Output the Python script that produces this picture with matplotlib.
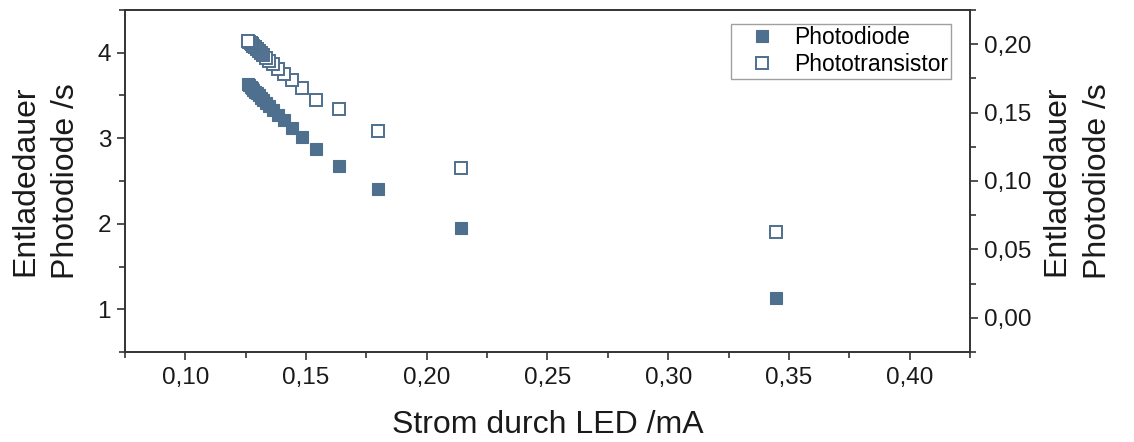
import matplotlib
matplotlib.use("Agg")
import matplotlib.pyplot as plt
from matplotlib.ticker import MultipleLocator, FuncFormatter

plt.rcParams['font.family'] = ['Liberation Sans', 'DejaVu Sans']

# Strom durch LED in mA
current = [0.3445, 0.2143, 0.1798, 0.1635, 0.1542, 0.1483, 0.1441, 0.1408,
           0.1384, 0.1364, 0.1348, 0.1335, 0.1323, 0.1313, 0.1304, 0.1296,
           0.1289, 0.1282, 0.1276, 0.1270, 0.1265, 0.1260]
# Entladedauer in s
photodiode = [1.13, 1.95, 2.41, 2.675, 2.875, 3.015, 3.125, 3.21,
              3.275, 3.33, 3.375, 3.41, 3.445, 3.475, 3.50, 3.525,
              3.545, 3.565, 3.585, 3.605, 3.62, 3.64]
phototransistor = [0.0628, 0.1095, 0.1365, 0.1526, 0.1591, 0.1679, 0.1735, 0.1785,
                   0.1822, 0.1855, 0.1880, 0.1900, 0.1920, 0.1937, 0.1952, 0.1965,
                   0.1977, 0.1988, 0.1998, 0.2008, 0.2016, 0.2025]

col = '#4e6f8d'
spine_col = '#333333'


def comma(v, pos):
    return '{:.2f}'.format(v).replace('.', ',')


fig = plt.figure(figsize=(11.34, 4.42), dpi=100)
ax = fig.add_axes([0.1102, 0.2036, 0.7452, 0.7738])
ax2 = ax.twinx()

l1, = ax.plot(current, photodiode, 's', ms=8.0, color=col, mec=col, mew=0.8,
              label='Photodiode', linestyle='none')
l2, = ax2.plot(current, phototransistor, 's', ms=8.2, mfc='white', mec=col, mew=1.4,
               label='Phototransistor', linestyle='none')

ax.set_xlim(0.075, 0.425)
ax.set_ylim(0.5, 4.5)
ax2.set_ylim(-0.025, 0.225)

ax.xaxis.set_major_locator(MultipleLocator(0.05))
ax.xaxis.set_minor_locator(MultipleLocator(0.025))
ax.xaxis.set_major_formatter(FuncFormatter(comma))
ax.yaxis.set_major_locator(MultipleLocator(1))
ax.yaxis.set_minor_locator(MultipleLocator(0.5))
ax2.yaxis.set_major_locator(MultipleLocator(0.05))
ax2.yaxis.set_minor_locator(MultipleLocator(0.025))
ax2.yaxis.set_major_formatter(FuncFormatter(comma))

for a in (ax, ax2):
    for s in a.spines.values():
        s.set_color(spine_col)
        s.set_linewidth(1.2)

ax.tick_params(axis='x', which='both', direction='out', top=False, colors=spine_col,
               labelcolor='#1a1a1a', labelsize=17.5, pad=5, width=1.2)
ax.tick_params(axis='y', which='both', direction='out', right=False, colors=spine_col,
               labelcolor='#1a1a1a', labelsize=17.5, pad=4, width=1.2)
ax2.tick_params(axis='y', which='both', direction='out', left=False, colors=spine_col,
                labelcolor='#1a1a1a', labelsize=17.5, pad=4, width=1.2)
for a in (ax, ax2):
    a.tick_params(which='major', length=6)
    a.tick_params(which='minor', length=4)

ax.set_xlabel('Strom durch LED /mA', fontsize=23, color='#1a1a1a')
ax.xaxis.set_label_coords(0.5, -0.17)
ax.set_ylabel('Entladedauer\nPhotodiode /s', fontsize=23, color='#1a1a1a', linespacing=1.45)
ax.yaxis.set_label_coords(-0.052, 0.5)
ax2.set_ylabel('Entladedauer\nPhotodiode /s', fontsize=23, color='#1a1a1a', linespacing=1.5)
ax2.yaxis.set_label_coords(1.085, 0.5)

leg = ax2.legend(handles=[l1, l2], loc='upper right', bbox_to_anchor=(0.977, 0.96),
                 borderaxespad=0, fontsize=16.5, frameon=True, fancybox=False,
                 edgecolor='#a0a0a0', framealpha=1, handlelength=2.4,
                 handletextpad=0.2, labelspacing=0.15, borderpad=0.12)
leg.get_frame().set_linewidth(1.0)

fig.savefig('out.png', dpi=100)
